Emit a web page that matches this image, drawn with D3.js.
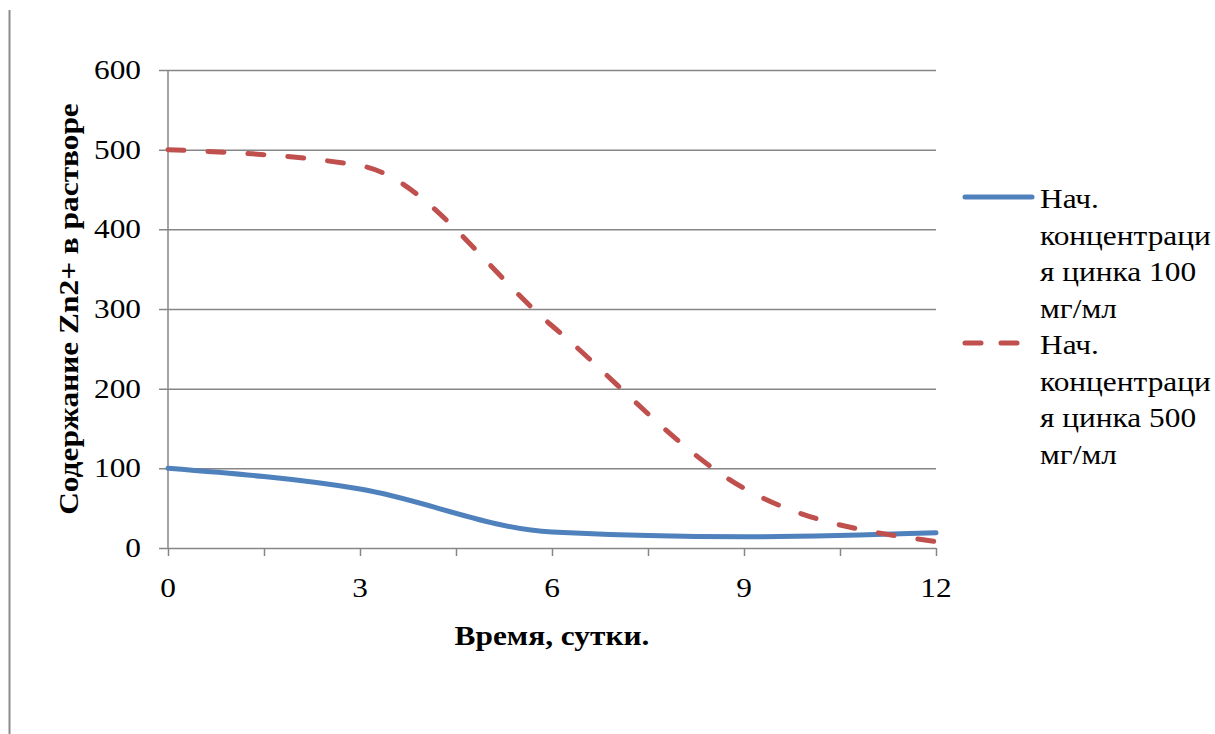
<!DOCTYPE html>
<html>
<head>
<meta charset="utf-8">
<script src="https://cdn.jsdelivr.net/npm/d3@7"></script>
<style>
  html, body { margin: 0; padding: 0; background: #fff; }
  svg { display: block; }
  svg text { font-family: "Liberation Serif", "Times New Roman", "DejaVu Serif", serif; fill: #000; }
</style>
</head>
<body>
<svg id="chart" width="1215" height="734"></svg>
<script>
// Time points (days) and Zn2+ content for two starting concentrations
const days = [0, 3, 6, 9, 12];
const zn100 = [100, 74, 20, 14, 19];
const zn500 = [500, 480, 279, 75, 8];
const yTicks = [0, 100, 200, 300, 400, 500, 600];
const xTickLabels = ["0", "3", "6", "9", "12"];
const minorTicks = [1.5, 4.5, 7.5, 10.5];
const seriesNames = [
  ["Нач.", "концентраци", "я цинка 100", "мг/мл"],
  ["Нач.", "концентраци", "я цинка 500", "мг/мл"]
];

const svg = d3.select("#chart");
const plotLeft = 168, plotRight = 936, plotTop = 70, plotBottom = 548;
const x = d3.scaleLinear().domain([0, 12]).range([plotLeft, plotRight]);
const y = d3.scaleLinear().domain([0, 600]).range([plotBottom, plotTop]);
const gridColor = "#868686";
const blue = "#4F81BD", red = "#C0504D";
const fontSize = 28, stretch = 1.12;

// text with a slightly widened face
function label(parent, tx, ty, str, anchor, bold) {
  return parent.append("text")
    .attr("transform", `translate(${tx},${ty}) scale(${stretch},1)`)
    .attr("text-anchor", anchor || "start")
    .attr("font-size", fontSize)
    .attr("font-weight", bold ? "bold" : "normal")
    .text(str);
}

// page border line on the left
svg.append("line").attr("x1", 9.5).attr("x2", 9.5).attr("y1", 10).attr("y2", 734)
  .attr("stroke", "#8c8c8c").attr("stroke-width", 2);

// horizontal gridlines with outer tick marks
const yAxis = d3.axisLeft(y).tickValues(yTicks).tickSize(-(plotRight - plotLeft)).tickFormat("");
const gy = svg.append("g").attr("transform", `translate(${plotLeft},0)`).call(yAxis);
gy.select(".domain").remove();
gy.selectAll(".tick line").attr("stroke", gridColor).attr("stroke-width", 1.5).attr("x1", -9);
gy.selectAll(".tick text").remove();
svg.append("g").selectAll("g").data(yTicks).join("g")
  .each(function (d) { label(d3.select(this), plotLeft - 27, y(d) + 9, String(d), "end"); });

// vertical axis line
svg.append("line").attr("x1", plotLeft).attr("x2", plotLeft).attr("y1", plotTop).attr("y2", plotBottom)
  .attr("stroke", gridColor).attr("stroke-width", 1.5);

// x-axis tick marks and labels
const xAxis = d3.axisBottom(x).tickValues(days.concat(minorTicks)).tickSize(8).tickFormat("");
const gx = svg.append("g").attr("transform", `translate(0,${plotBottom})`).call(xAxis);
gx.select(".domain").remove();
gx.selectAll(".tick line").attr("stroke", gridColor).attr("stroke-width", 1.5);
gx.selectAll(".tick text").remove();
svg.append("g").selectAll("g").data(days).join("g")
  .each(function (d, i) { label(d3.select(this), x(d), 597, xTickLabels[i], "middle"); });

// series lines
const line = d3.line().x((d, i) => x(days[i])).y(d => y(d)).curve(d3.curveMonotoneX);
svg.append("path").datum(zn100).attr("d", line)
  .attr("fill", "none").attr("stroke", blue).attr("stroke-width", 5)
  .attr("stroke-linecap", "round").attr("stroke-linejoin", "round");
svg.append("path").datum(zn500).attr("d", line)
  .attr("fill", "none").attr("stroke", red).attr("stroke-width", 5)
  .attr("stroke-dasharray", "16 24").attr("stroke-linecap", "round")
  .attr("stroke-linejoin", "round");

// axis titles
label(svg, 552, 645, "Время, сутки.", "middle", true);
svg.append("text").attr("transform", `translate(78,${(plotTop + plotBottom) / 2}) rotate(-90) scale(${stretch},1)`)
  .attr("text-anchor", "middle").attr("font-size", fontSize).attr("font-weight", "bold")
  .text("Содержание Zn2+ в растворе");

// legend
const legendColors = [blue, red];
const legendDash = [null, "16 20"];
const legend = svg.append("g");
seriesNames.forEach((lines, s) => {
  const baseY = 208 + s * 146;
  legend.append("line").attr("x1", 965).attr("x2", s === 0 ? 1032 : 1024)
    .attr("y1", baseY - 11).attr("y2", baseY - 11)
    .attr("stroke", legendColors[s]).attr("stroke-width", 5)
    .attr("stroke-linecap", "round")
    .attr("stroke-dasharray", legendDash[s]);
  lines.forEach((t, i) => label(legend, 1040, baseY + i * 36.5, t));
});
</script>
</body>
</html>
